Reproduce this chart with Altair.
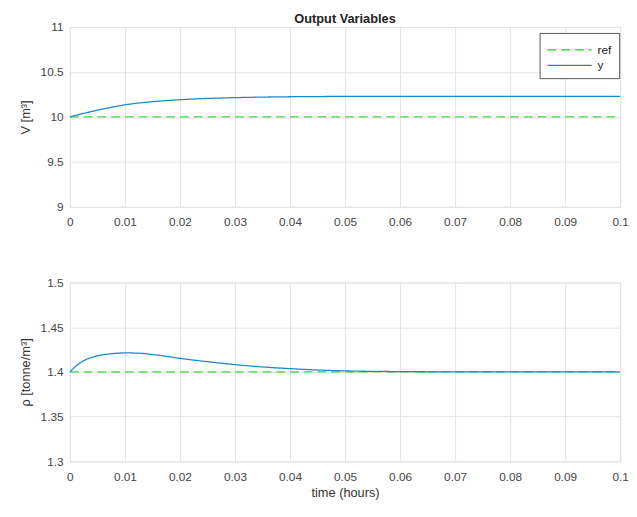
import altair as alt
import pandas as pd

# ---- data ----
time_h = [0, 0.001, 0.0025, 0.005, 0.0075, 0.01, 0.0125, 0.015, 0.0175, 0.02, 0.025, 0.03,
          0.035, 0.04, 0.045, 0.05, 0.06, 0.07, 0.08, 0.09, 0.1]
V_y = [10.0, 10.016, 10.04, 10.075, 10.107, 10.135, 10.155, 10.17, 10.182, 10.192, 10.206, 10.215,
       10.221, 10.225, 10.227, 10.229, 10.23, 10.23, 10.23, 10.23, 10.23]
V_ref = [10.0] * len(time_h)
rho_y = [1.4, 1.406, 1.4125, 1.418, 1.4203, 1.4213, 1.421, 1.4195, 1.4175, 1.4152, 1.4115, 1.4082,
         1.4056, 1.4037, 1.4022, 1.4012, 1.4004, 1.4001, 1.4, 1.4, 1.4]
rho_ref = [1.4] * len(time_h)

x_ticks = [0, 0.01, 0.02, 0.03, 0.04, 0.05, 0.06, 0.07, 0.08, 0.09, 0.1]
v_ticks = [9, 9.5, 10, 10.5, 11]
rho_ticks = [1.3, 1.35, 1.4, 1.45, 1.5]
series = ["ref", "y"]
colors = ["#3fd83f", "#1a8ac8"]

n = len(time_h)
top_df = pd.DataFrame({"t": time_h * 2, "v": V_ref + V_y, "s": ["ref"] * n + ["y"] * n})
bot_df = pd.DataFrame({"t": time_h * 2, "v": rho_ref + rho_y, "s": ["ref"] * n + ["y"] * n})

FONT = "Liberation Sans"
W = 560

def xaxis(title):
    return alt.Axis(values=x_ticks, format="~g", ticks=False, labelPadding=10,
                    labelFontSize=12, labelColor="#444444", grid=True, labelFlush=False,
                    gridColor="#e3e3e3", domain=False, title=title,
                    titleFontSize=13, titleFontWeight="normal", titleColor="#333333",
                    titlePadding=4, labelFont=FONT, titleFont=FONT,
                    minExtent=22, maxExtent=22)

def yaxis(title, ticks):
    return alt.Axis(values=ticks, format="~g", ticks=False, labelPadding=7,
                    labelFontSize=12, labelColor="#444444", grid=True, labelFlush=False,
                    gridColor="#e3e3e3", domain=False, title=title,
                    titleFontSize=13, titleFontWeight="normal", titleColor="#333333",
                    titlePadding=10, labelFont=FONT, titleFont=FONT,
                    minExtent=28, maxExtent=28)

color_scale = alt.Scale(domain=series, range=colors)
dash_scale = alt.Scale(domain=series, range=[[9, 5], [1, 0]])
LEG = dict(title=None, orient="none", legendX=478, legendY=6,
           symbolType="M-1,0H4", symbolSize=324, symbolStrokeWidth=1.5,
           labelFontSize=12, labelFont=FONT, labelColor="#222222",
           fillColor="white", strokeColor="#555555", padding=7, rowPadding=0,
           labelOffset=32)

top = alt.Chart(top_df).mark_line(strokeWidth=1.3, interpolate="monotone").encode(
    x=alt.X("t:Q", scale=alt.Scale(domain=[0, 0.1], nice=False), axis=xaxis(None)),
    y=alt.Y("v:Q", scale=alt.Scale(domain=[9, 11], nice=False, zero=False),
            axis=yaxis("V [m³]", v_ticks)),
    color=alt.Color("s:N", scale=color_scale, legend=alt.Legend(**LEG)),
    strokeDash=alt.StrokeDash("s:N", scale=dash_scale, legend=alt.Legend(**LEG)),
).properties(width=W, height=183,
             title=alt.TitleParams("Output Variables", font=FONT, fontSize=13,
                                   fontWeight="bold", color="#222222", offset=-5))

bottom = alt.Chart(bot_df).mark_line(strokeWidth=1.3, interpolate="monotone").encode(
    x=alt.X("t:Q", scale=alt.Scale(domain=[0, 0.1], nice=False), axis=xaxis("time (hours)")),
    y=alt.Y("v:Q", scale=alt.Scale(domain=[1.3, 1.5], nice=False, zero=False),
            axis=yaxis("ρ [tonne/m³]", rho_ticks)),
    color=alt.Color("s:N", scale=color_scale, legend=None),
    strokeDash=alt.StrokeDash("s:N", scale=dash_scale, legend=None),
).properties(width=W, height=182)

chart = alt.vconcat(top, bottom, spacing=47).resolve_legend(
    color="independent", strokeDash="independent"
).resolve_scale(color="independent", strokeDash="independent").properties(
    padding={"left": 11, "top": 0, "right": 0, "bottom": 0}
).configure_view(stroke="#333333", strokeWidth=1).configure(background="white")

chart.save("out.html", embed_options={"renderer": "svg", "actions": False})
